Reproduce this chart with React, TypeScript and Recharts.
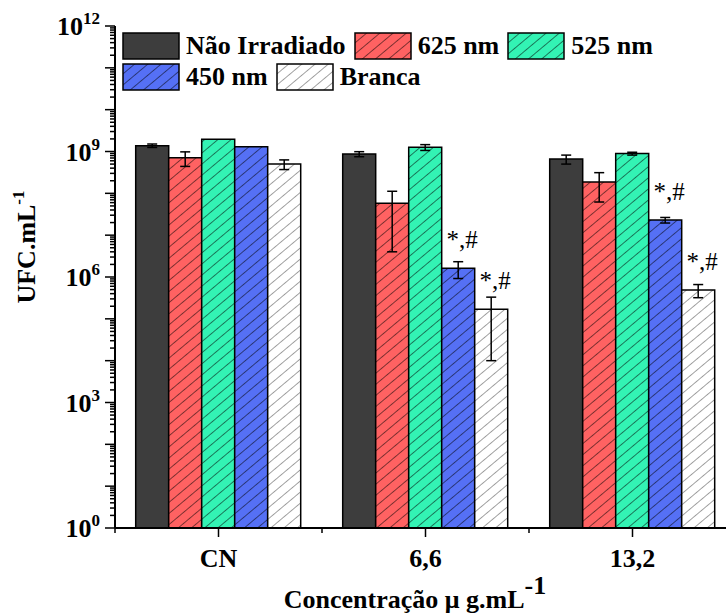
import { BarChart, Bar, XAxis, YAxis, ErrorBar, LabelList, Legend } from 'recharts';

const categories = ['CN', '6,6', '13,2'];

const naoIrradiado = [1.38e9, 8.7e8, 6.6e8];
const naoIrradiadoErr = [1.3e8, 1.2e8, 1.6e8];
const nm625 = [7.1e8, 5.8e7, 1.87e8];
const nm625Err = [2.7e8, 5.4e7, 1.25e8];
const nm525 = [1.95e9, 1.26e9, 8.9e8];
const nm525Err = [0, 2.0e8, 7.0e7];
const nm450 = [1.3e9, 1.62e6, 2.3e7];
const nm450Err = [0, 0.7e6, 3.5e6];
const branca = [5.0e8, 1.7e5, 4.9e5];
const brancaErr = [1.3e8, 1.6e5, 1.7e5];
const nm450Notes = ['', '*,#', '*,#'];
const brancaNotes = ['', '*,#', '*,#'];

const yTickLabels = [0, 3, 6, 9, 12];

const FONT = "'Liberation Serif', 'Times New Roman', serif";

const series = [
  { key: 'nao', name: 'Não Irradiado', color: '#3d3d3d', hatch: false },
  { key: 'r625', name: '625 nm', color: '#ff6262', hatch: true },
  { key: 'g525', name: '525 nm', color: '#33f3b4', hatch: true },
  { key: 'b450', name: '450 nm', color: '#5570f5', hatch: true },
  { key: 'branca', name: 'Branca', color: '#ffffff', hatch: true },
];

const data = categories.map((cat, i) => ({
  cat,
  nao: naoIrradiado[i],
  naoErr: naoIrradiadoErr[i],
  r625: nm625[i],
  r625Err: nm625Err[i],
  g525: nm525[i],
  g525Err: nm525Err[i],
  b450: nm450[i],
  b450Err: nm450Err[i],
  b450Note: nm450Notes[i],
  branca: branca[i],
  brancaErr: brancaErr[i],
  brancaNote: brancaNotes[i],
}));

// log ticks: every 1..9 x 10^n
const yTicks: number[] = [];
for (let n = 0; n < 12; n++) {
  for (let k = 1; k < 10; k++) yTicks.push(k * Math.pow(10, n));
}
yTicks.push(1e12);

const fillOf = (s: typeof series[number]) => (s.hatch ? `url(#hatch-${s.key})` : s.color);

function Patterns({ prefix = 'hatch' }: { prefix?: string }) {
  return (
    <defs>
      {series.filter((s) => s.hatch).map((s) => (
        <pattern
          key={s.key}
          id={`${prefix}-${s.key}`}
          patternUnits="userSpaceOnUse"
          width={8.5}
          height={8.5}
          patternTransform="rotate(50)"
        >
          <rect width={8.5} height={8.5} fill={s.color} />
          <line x1={0} y1={0} x2={0} y2={8.5} stroke={s.key === 'branca' ? '#444' : '#000'} strokeWidth={1} />
        </pattern>
      ))}
    </defs>
  );
}

function YTick(props: any) {
  const { y, payload } = props;
  const v = payload.value;
  const p = Math.round(Math.log10(v));
  const isDecade = Math.abs(v - Math.pow(10, p)) < 1e-6 * v;
  const len = isDecade ? 10 : 5;
  return (
    <g>
      <line x1={115 - len} x2={115} y1={y} y2={y} stroke="#000" strokeWidth={1.5} />
      {isDecade && yTickLabels.includes(p) && (
        <text x={100} y={y + 9} textAnchor="end" fontFamily={FONT} fontWeight="bold" fontSize={26} fill="#000">
          <tspan>10</tspan>
          <tspan dy={-11} fontSize={17}>{p}</tspan>
        </text>
      )}
    </g>
  );
}

function XTick(props: any) {
  const { x, payload, index } = props;
  const band = 207;
  return (
    <g>
      <line x1={x} x2={x} y1={528} y2={537} stroke="#000" strokeWidth={1.5} />
      <line x1={x + band / 2} x2={x + band / 2} y1={528} y2={533} stroke="#000" strokeWidth={1.5} />
      {index === 0 && <line x1={x - band / 2} x2={x - band / 2} y1={528} y2={533} stroke="#000" strokeWidth={1.5} />}
      <text x={x} y={567} textAnchor="middle" fontFamily={FONT} fontWeight="bold" fontSize={26} fill="#000">
        {payload.value}
      </text>
    </g>
  );
}

function NoteLabel(props: any) {
  const { x, y, width, value } = props;
  if (!value) return null;
  return (
    <text x={x + width / 2 + 4} y={y - 20} textAnchor="middle" fontFamily={FONT} fontSize={25} fill="#000">
      {value}
    </text>
  );
}

function LegendContent() {
  return (
    <div style={{ display: 'flex', flexWrap: 'wrap', width: 540, rowGap: 3, columnGap: 8, fontFamily: FONT }}>
      {series.map((s) => (
        <div key={s.key} style={{ display: 'flex', alignItems: 'center', height: 28 }}>
          <svg width={58} height={28} style={{ display: 'block' }}>
            <Patterns prefix={`lg`} />
            <rect x={1} y={1} width={56} height={26} fill={s.hatch ? `url(#lg-${s.key})` : s.color} stroke="#000" strokeWidth={1.5} />
          </svg>
          <span style={{ marginLeft: 6, fontWeight: 'bold', fontSize: 26, lineHeight: '28px', color: '#000' }}>{s.name}</span>
        </div>
      ))}
    </div>
  );
}

export default function App() {
  return (
    <div style={{ position: 'fixed', left: 0, top: 0, width: 726, height: 613, overflow: 'hidden', background: '#fff' }}>
      <svg width={0} height={0} style={{ position: 'absolute' }}>
        <Patterns />
      </svg>
      <BarChart
        width={740}
        height={613}
        data={data}
        margin={{ top: 26, right: 4, bottom: 0, left: 0 }}
        barCategoryGap="10%"
        barGap={0}
      >
        <XAxis
          dataKey="cat"
          height={85}
          interval={0}
          tickLine={false}
          tick={<XTick />}
          axisLine={{ stroke: '#000', strokeWidth: 2 }}
        />
        <XAxis xAxisId="top" orientation="top" dataKey="cat" height={0} tick={false} tickLine={false} axisLine={{ stroke: '#000', strokeWidth: 2 }} />
        <YAxis
          type="number"
          scale="log"
          domain={[1, 1e12]}
          allowDataOverflow
          ticks={yTicks}
          interval={0}
          width={115}
          tickLine={false}
          tick={<YTick />}
          axisLine={{ stroke: '#000', strokeWidth: 2 }}
        />
        <Legend
          verticalAlign="middle"
          width={540}
          wrapperStyle={{ left: 122, top: 32 }}
          content={<LegendContent />}
        />
        {series.map((s) => (
          <Bar
            key={s.key}
            dataKey={s.key}
            name={s.name}
            fill={fillOf(s)}
            stroke="#000"
            strokeWidth={1.5}
            isAnimationActive={false}
          >
            <ErrorBar dataKey={`${s.key}Err`} width={5} stroke="#000" strokeWidth={1.5} direction="y" />
            {(s.key === 'b450' || s.key === 'branca') && (
              <LabelList dataKey={`${s.key}Note`} content={<NoteLabel />} />
            )}
          </Bar>
        ))}
      </BarChart>
      <svg width={726} height={613} style={{ position: 'absolute', left: 0, top: 0, pointerEvents: 'none' }}>
        <text
          x={35}
          y={247}
          transform="rotate(-90, 35, 247)"
          textAnchor="middle"
          fontFamily={FONT}
          fontWeight="bold"
          fontSize={26}
          fill="#000"
        >
          UFC.mL<tspan dy={-11} fontSize={17}>-1</tspan>
        </text>
        <text x={415} y={608} textAnchor="middle" fontFamily={FONT} fontWeight="bold" fontSize={26} fill="#000">
          Concentração μ g.mL<tspan dy={-14} fontSize={26}>-1</tspan>
        </text>
      </svg>
    </div>
  );
}
